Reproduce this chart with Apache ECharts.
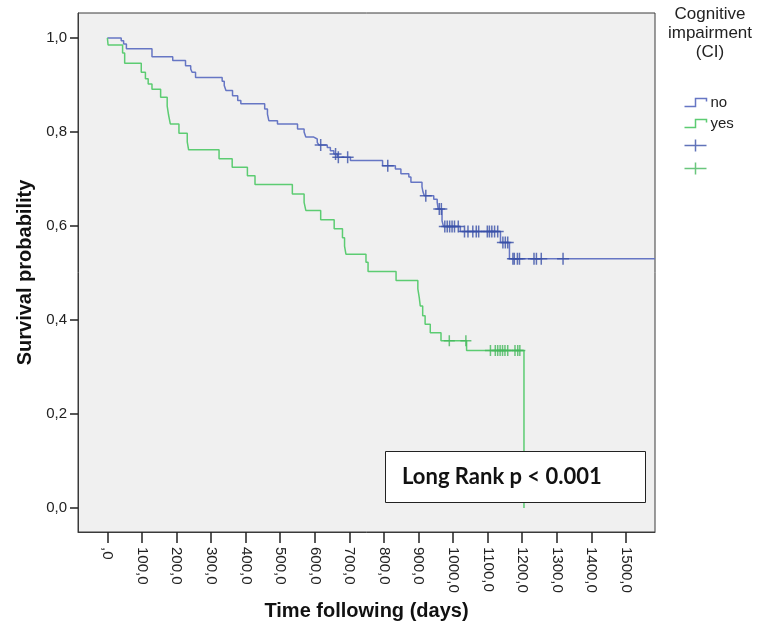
<!DOCTYPE html>
<html>
<head>
<meta charset="utf-8">
<script src="https://cdn.jsdelivr.net/npm/echarts@6/dist/echarts.min.js"></script>
<style>
html,body{margin:0;padding:0;background:#fff;}
#chart{width:757px;height:626px;}
</style>
</head>
<body>
<div id="chart"></div>
<script>
// Tick labels
var xTicks = [0,100,200,300,400,500,600,700,800,900,1000,1100,1200,1300,1400,1500];
var yTicks = [0,0.2,0.4,0.6,0.8,1.0];

// Kaplan-Meier step points [time (days), survival] – no cognitive impairment
var noSteps = [[0,1.0],[40,0.994],[47,0.987],[55,0.977],[129,0.960],[189,0.952],[226,0.941],[241,0.934],[245,0.927],[255,0.916],[332,0.908],[338,0.899],[343,0.888],[362,0.877],[377,0.867],[386,0.860],[455,0.849],[463,0.838],[467,0.824],[492,0.817],[550,0.806],[569,0.800],[574,0.789],[597,0.785],[607,0.778],[612,0.772],[636,0.767],[645,0.760],[655,0.753],[665,0.746],[703,0.739],[796,0.728],[833,0.721],[849,0.711],[872,0.704],[878,0.693],[910,0.683],[913,0.672],[917,0.664],[944,0.657],[954,0.650],[957,0.636],[968,0.611],[972,0.599],[1021,0.588],[1137,0.565],[1163,0.530],[1584,0.530]];
// censored observations – no CI
var noCensored = [[617,0.772],[660,0.753],[668,0.746],[695,0.746],[811,0.728],[921,0.664],[960,0.636],[966,0.636],[976,0.599],[983,0.599],[990,0.599],[997,0.599],[1004,0.599],[1015,0.599],[1033,0.588],[1043,0.588],[1057,0.588],[1067,0.588],[1074,0.588],[1099,0.588],[1105,0.588],[1112,0.588],[1120,0.588],[1129,0.588],[1144,0.565],[1151,0.565],[1158,0.565],[1173,0.530],[1177,0.530],[1186,0.530],[1192,0.530],[1234,0.530],[1241,0.530],[1255,0.530],[1318,0.530]];

// Kaplan-Meier step points – cognitive impairment
var yesSteps = [[0,1.0],[2,0.985],[44,0.968],[50,0.946],[98,0.927],[110,0.913],[118,0.902],[129,0.891],[154,0.874],[173,0.855],[177,0.836],[182,0.817],[207,0.797],[231,0.779],[235,0.762],[323,0.743],[361,0.725],[405,0.707],[427,0.688],[535,0.668],[569,0.650],[574,0.633],[617,0.613],[656,0.594],[680,0.575],[686,0.557],[690,0.540],[748,0.523],[754,0.503],[835,0.484],[898,0.466],[902,0.448],[905,0.430],[912,0.409],[919,0.391],[934,0.373],[965,0.356],[1039,0.335],[1205,0.0]];
// censored observations – CI
var yesCensored = [[989,0.356],[1037,0.356],[1108,0.335],[1122,0.335],[1129,0.335],[1136,0.335],[1143,0.335],[1150,0.335],[1158,0.335],[1179,0.335],[1187,0.335],[1193,0.335]];

var blueLine = '#6676c4', blueMark = '#3a50a8';
var greenLine = '#5ccc72', greenMark = '#45b85c';
var plusPath = 'path://M6,0L6,12M0,6L12,6';
var legendPlus = 'path://M11,0L11,12M0,6L22,6';
var stepIcon = 'path://M0,10L11,10L11,2L22,2L22,5';

var chart = echarts.init(document.getElementById('chart'), null, {renderer:'canvas'});
var option = {
  animation: false,
  backgroundColor: '#ffffff',
  textStyle: {fontFamily: 'Liberation Sans, Arial, sans-serif'},
  grid: {left: 78, top: 13, right: 102, bottom: 93, show: true, backgroundColor: '#f0f0f0', borderColor: '#3a3a3a', borderWidth: 1, containLabel: false},
  xAxis: {
    type: 'value', min: -85, max: 1584,
    splitLine: {show: false},
    axisLine: {show: true, onZero: false, lineStyle: {color: '#3a3a3a', width: 1}},
    axisTick: {show: true, length: 11, customValues: xTicks, lineStyle: {color: '#222', width: 1.5}},
    axisLabel: {customValues: xTicks, rotate: -90, margin: 15, fontSize: 15, color: '#222',
      formatter: function(v){ return v === 0 ? ',0' : v.toFixed(1).replace('.', ','); }},
    name: 'Time following (days)', nameLocation: 'middle', nameGap: 69,
    nameTextStyle: {fontSize: 20, fontWeight: 'bold', color: '#111'}
  },
  yAxis: {
    type: 'value', min: -0.051, max: 1.053,
    splitLine: {show: false},
    axisLine: {show: true, onZero: false, lineStyle: {color: '#3a3a3a', width: 1}},
    axisTick: {show: true, length: 8, customValues: yTicks, lineStyle: {color: '#222', width: 1.5}},
    axisLabel: {customValues: yTicks, margin: 11, fontSize: 15, color: '#222',
      formatter: function(v){ return v.toFixed(1).replace('.', ','); }},
    name: 'Survival probability', nameLocation: 'middle', nameGap: 42,
    nameTextStyle: {fontSize: 20, fontWeight: 'bold', color: '#111'}
  },
  legend: {
    orient: 'vertical', left: 677, top: 90, itemWidth: 22, itemHeight: 12, itemGap: 6,
    textStyle: {fontSize: 15, color: '#222', padding: [0,0,0,-1]},
    formatter: function(n){ return n.indexOf('censored') >= 0 ? '' : n; },
    data: [
      {name: 'no', icon: stepIcon, itemStyle: {color: 'none', borderColor: blueLine, borderWidth: 1.5}},
      {name: 'yes', icon: stepIcon, itemStyle: {color: 'none', borderColor: greenLine, borderWidth: 1.5}},
      {name: 'no censored', icon: legendPlus, itemStyle: {color: 'none', borderColor: blueMark, borderWidth: 1.5}},
      {name: 'yes censored', icon: legendPlus, itemStyle: {color: 'none', borderColor: greenMark, borderWidth: 1.5}}
    ]
  },
  graphic: [
    {type: 'text', z: 100, x: 710, y: 14, style: {text: 'Cognitive', font: '17px "Liberation Sans", Arial', fill: '#222', textAlign: 'center', textVerticalAlign: 'middle'}},
    {type: 'text', z: 100, x: 710, y: 33, style: {text: 'impairment', font: '17px "Liberation Sans", Arial', fill: '#222', textAlign: 'center', textVerticalAlign: 'middle'}},
    {type: 'text', z: 100, x: 710, y: 52, style: {text: '(CI)', font: '17px "Liberation Sans", Arial', fill: '#222', textAlign: 'center', textVerticalAlign: 'middle'}},
    {type: 'rect', z: 100, shape: {x: 385.5, y: 451.5, width: 260, height: 51}, style: {fill: '#ffffff', stroke: '#222', lineWidth: 1}},
    {type: 'text', z: 101, x: 402, y: 477, style: {text: 'Long Rank p < 0.001', font: 'bold 22px Lato, "Open Sans", sans-serif', fill: '#111', textVerticalAlign: 'middle'}}
  ],
  series: [
    {name: 'no', type: 'line', step: 'end', data: noSteps, showSymbol: false, symbol: 'none', lineStyle: {color: blueLine, width: 1.5}, itemStyle: {color: blueLine}, z: 3},
    {name: 'yes', type: 'line', step: 'end', data: yesSteps, showSymbol: false, symbol: 'none', lineStyle: {color: greenLine, width: 1.5}, itemStyle: {color: greenLine}, z: 3},
    {name: 'no censored', type: 'scatter', data: noCensored, symbol: plusPath, symbolSize: [12,12], itemStyle: {color: 'none', borderColor: blueMark, borderWidth: 1.5}, z: 4},
    {name: 'yes censored', type: 'scatter', data: yesCensored, symbol: plusPath, symbolSize: [11,11], itemStyle: {color: 'none', borderColor: greenMark, borderWidth: 1.5}, z: 4}
  ]
};
chart.setOption(option);
</script>
</body>
</html>
